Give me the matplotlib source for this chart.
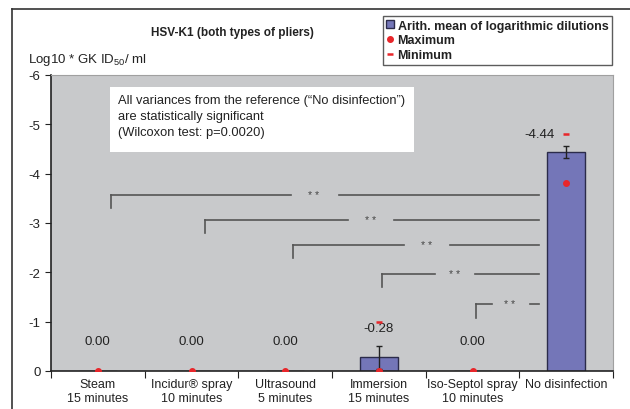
import numpy as np
import matplotlib
matplotlib.use("Agg")
import matplotlib.pyplot as plt
from matplotlib.patches import Patch, Rectangle
from matplotlib.lines import Line2D

plt.rcParams['font.family'] = ['Liberation Sans', 'DejaVu Sans']
plt.rcParams['axes.unicode_minus'] = False
plt.rcParams['mathtext.default'] = 'regular'

categories = ["Steam\n15 minutes", "Incidur\u00ae spray\n10 minutes", "Ultrasound\n5 minutes",
              "Immersion\n15 minutes", "Iso-Septol spray\n10 minutes", "No disinfection"]
means = [0.0, 0.0, 0.0, -0.28, 0.0, -4.44]
errors = [0.0, 0.0, 0.0, 0.23, 0.0, 0.13]
maximum = [0.0, 0.0, 0.0, 0.0, 0.0, -3.81]
minimum = [0.0, 0.0, 0.0, -1.0, 0.0, -4.80]
mean_labels = ["0.00", "0.00", "0.00", "-0.28", "0.00", "-4.44"]

bar_color = "#7476b8"
bg = "#c8c9cb"
red = "#e8262a"
txt = "#222222"

fig = plt.figure(figsize=(6.3, 4.1), dpi=100)
ax = fig.add_axes([51/630, 1-372/410, 562/630, 296/410])
ax.set_facecolor(bg)

x = np.arange(len(categories))
ax.bar(x, means, width=0.4, color=bar_color, edgecolor="#2b2b4a", linewidth=1, zorder=2)
ax.errorbar(x, means, yerr=errors, fmt='none', ecolor=txt,
            elinewidth=1, capsize=2, capthick=1, zorder=3)
ax.plot(x, maximum, 'o', color=red, markersize=4, zorder=4, linestyle='none')
ax.plot(x, minimum, '_', color=red, markersize=4.5, markeredgewidth=1.8, zorder=4, linestyle='none')

# value labels
for i, lab in enumerate(mean_labels):
    if i == 5:
        ax.text(i - 0.12, minimum[i], lab, ha='right', va='center', fontsize=9.5, color=txt)
    elif means[i] != 0:
        ax.text(i, minimum[i] + 0.12, lab, ha='center', va='center', fontsize=9.5, color=txt)
    else:
        ax.text(i, -0.6, lab, ha='center', va='center', fontsize=9.5, color=txt)

# significance brackets
brackets = [(0.14, 3.57, 2.06, 2.58, 2.30),
            (1.14, 3.07, 2.67, 3.16, 2.91),
            (2.08, 2.56, 3.27, 3.76, 3.51),
            (3.03, 1.97, 3.60, 4.03, 3.81),
            (4.04, 1.35, 4.21, 4.61, 4.40)]
end_x = 4.71
lc = "#555555"
for sx, h, g1, g2, sp in brackets:
    ax.plot([sx, sx], [-h + 0.27, -h], color=lc, lw=1.2, zorder=1)
    ax.plot([sx, g1], [-h, -h], color=lc, lw=1.2, zorder=1)
    ax.plot([g2, end_x], [-h, -h], color=lc, lw=1.2, zorder=1)
    ax.text(sp, -h, "* *", ha='center', va='center', fontsize=7.5, color="#444444", zorder=1)

ax.set_xlim(-0.5, 5.5)
ax.set_ylim(0, -6)
ax.set_yticks(np.arange(0, -7, -1))
ax.set_xticks(np.arange(-0.5, 6, 1))
ax.set_xticklabels([])
ax.set_xticks(x, minor=True)
ax.set_xticklabels(categories, minor=True, fontsize=9, color=txt, linespacing=1.2)
ax.tick_params(axis='x', which='minor', length=0, pad=5)
ax.tick_params(axis='x', which='major', length=5, direction='out', color=txt)
ax.tick_params(axis='y', length=4, labelsize=9.5, labelcolor=txt, color=txt)
for s in ['top', 'right']:
    ax.spines[s].set_color("#a0a0a0")
for s in ['left', 'bottom']:
    ax.spines[s].set_color(txt)
    ax.spines[s].set_linewidth(1.2)

# note box
ax.add_patch(Rectangle((0.13, -5.75), 3.25, 1.32, facecolor='white', edgecolor='none', zorder=1))
ax.text(0.22, -5.17, "All variances from the reference (\u201cNo disinfection\u201d)\n"
        "are statistically significant\n(Wilcoxon test: p=0.0020)",
        ha='left', va='center', fontsize=9.3, color=txt, linespacing=1.4, zorder=2)

fig.text(232/630, 1-33/410, "HSV-K1 (both types of pliers)", ha='center', va='center',
         fontsize=8.5, fontweight='bold', color=txt)
fig.text(28/630, 1-60/410, "Log10 * GK ID$_{50}$/ ml", ha='left', va='center',
         fontsize=9.5, color=txt)

handles = [Patch(facecolor=bar_color, edgecolor="#2b2b4a"),
           Line2D([], [], marker='o', color=red, linestyle='none', markersize=4),
           Line2D([], [], marker='_', color=red, linestyle='none', markersize=4.5, markeredgewidth=1.8)]
leg = fig.legend(handles, ["Arith. mean of logarithmic dilutions", "Maximum", "Minimum"],
                 loc='upper right', bbox_to_anchor=(612/630, 1-17/410), frameon=True,
                 fancybox=False, edgecolor="#333333", prop={'weight': 'bold', 'size': 9},
                 handlelength=0.6, handleheight=0.6, handletextpad=0.3, borderpad=0.3,
                 labelspacing=0.2, borderaxespad=0)
leg.get_frame().set_linewidth(1)
for t in leg.get_texts():
    t.set_color(txt)

# outer frame
fig.add_artist(Line2D([12/630, 12/630], [0, 1-10/410], color="#333333", lw=1.2))
fig.add_artist(Line2D([12/630, 1], [1-10/410, 1-10/410], color="#333333", lw=1.2))

fig.savefig("out.png", dpi=100)
